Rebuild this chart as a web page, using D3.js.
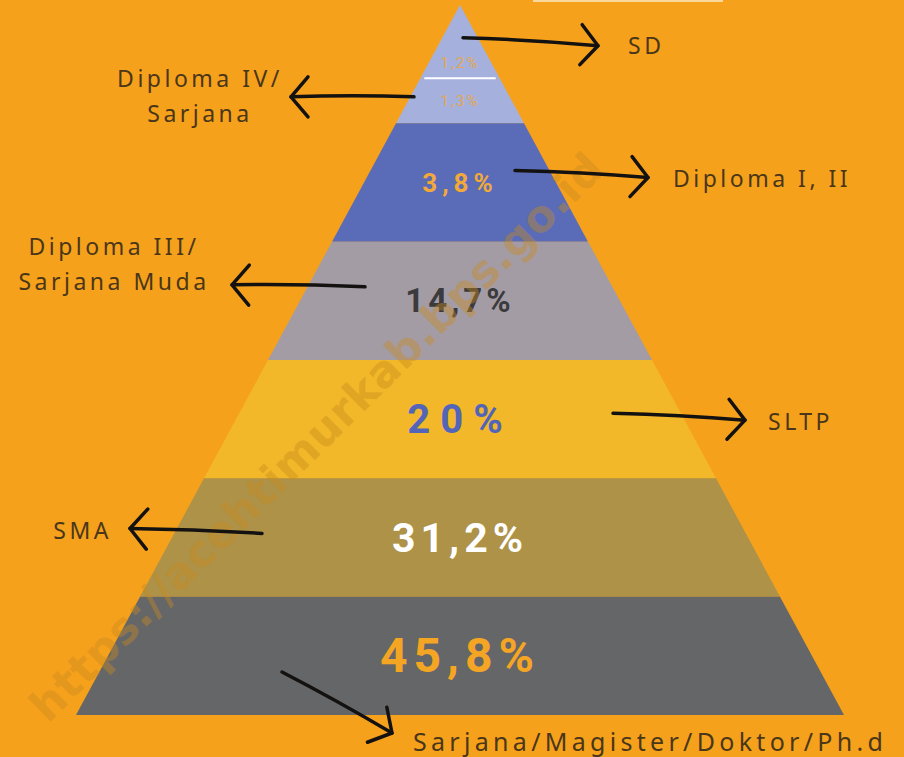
<!DOCTYPE html>
<html>
<head>
<meta charset="utf-8">
<script src="https://cdn.jsdelivr.net/npm/d3@7"></script>
<style>
  html, body { margin: 0; padding: 0; background: #F6A11C; }
  svg { display: block; }
</style>
</head>
<body>
<script>
// education levels, top of the pyramid first
var categories = ["SD", "Diploma IV/ Sarjana", "Diploma I, II", "Diploma III/ Sarjana Muda", "SLTP", "SMA", "Sarjana/Magister/Doktor/Ph.d"];
var values = [1.2, 1.3, 3.8, 14.7, 20, 31.2, 45.8];
var valueLabels = ["1,2%", "1,3%", "3,8%", "14,7%", "20%", "31,2%", "45,8%"];
// tier of the pyramid each category sits in (top tier is shared)
var tierStart = [0, 0.62, 1, 2, 3, 4, 5];
var tierEnd = [0.62, 1, 2, 3, 4, 5, 6];

var fills = ["#A5B1DC", "#A5B1DC", "#5A6CB7", "#A49CA4", "#F2B829", "#AD9248", "#656668"];
var textFills = ["#E3A652", "#E3A652", "#F2A93A", "#3B3B3D", "#5265B8", "#FFFFFF", "#F5A524"];
var textSizes = [15, 15, 26, 33, 40, 41, 48];
var textSpacing = [2, 2, 5, 4, 10, 5, 6];

var width = 904, height = 757;
var svg = d3.select("body").append("svg")
  .attr("width", width)
  .attr("height", height);

svg.append("rect")
  .attr("width", width)
  .attr("height", height)
  .attr("fill", "#F6A11C");

// leftover of a cut-off title strip
svg.append("rect")
  .attr("x", 533).attr("y", 0)
  .attr("width", 190).attr("height", 2)
  .attr("fill", "#FAD79A");

var cx = 460;
var y = d3.scaleLinear().domain([0, 6]).range([5, 715]);
var halfW = d3.scaleLinear().domain([5, 715]).range([0, 384]);

function tierPath(i) {
  var y0 = y(tierStart[i]), y1 = y(tierEnd[i]);
  var w0 = halfW(y0), w1 = halfW(y1);
  return "M" + (cx - w0) + "," + y0 + "L" + (cx + w0) + "," + y0 +
    "L" + (cx + w1) + "," + y1 + "L" + (cx - w1) + "," + y1 + "Z";
}

var pyramid = svg.append("g");
pyramid.selectAll("path")
  .data(values)
  .enter()
  .append("path")
  .attr("d", (d, i) => tierPath(i))
  .attr("fill", (d, i) => fills[i]);

// white divider inside the top tier
var ySplit = y(tierEnd[0]);
pyramid.append("line")
  .attr("x1", cx - halfW(ySplit) + 4).attr("x2", cx + halfW(ySplit) - 4)
  .attr("y1", ySplit).attr("y2", ySplit)
  .attr("stroke", "#FFFFFF")
  .attr("stroke-width", 2);

// percentage labels
pyramid.selectAll("text")
  .data(valueLabels)
  .enter()
  .append("text")
  .attr("x", cx)
  .attr("y", (d, i) => i === 0 ? y(tierEnd[0] - 0.13) : y((tierStart[i] + tierEnd[i]) / 2))
  .attr("text-anchor", "middle")
  .attr("dominant-baseline", "central")
  .attr("font-family", "Roboto, 'DejaVu Sans', sans-serif")
  .attr("font-weight", (d, i) => i < 2 ? 400 : 700)
  .attr("font-size", (d, i) => textSizes[i])
  .attr("letter-spacing", (d, i) => textSpacing[i] + "px")
  .attr("fill", (d, i) => textFills[i])
  .text(d => d);

// watermark
svg.append("text")
  .attr("transform", "translate(48,724) rotate(-44.7)")
  .attr("font-family", "'DejaVu Sans', sans-serif")
  .attr("font-weight", 700)
  .attr("font-size", 44)
  .attr("letter-spacing", "0.5px")
  .attr("fill", "#C98A1E")
  .attr("opacity", 0.4)
  .text("https://acehtimurkab.bps.go.id");

// hand drawn arrows and category names
// side: 1 -> arrow points right, -1 -> left; from/to are distances from the centre line
var notes = [
  { side: 1, from: 3, to: 138, dy: -4, tilt: 8, lx: 168, ly: 45 },
  { side: -1, from: 46, to: 169, dy: -4, tilt: 0 },
  { side: 1, from: 55, to: 188, dy: -12, tilt: 7, lx: 213, ly: 178 },
  { side: -1, from: 95, to: 228, dy: -14, tilt: -2 },
  { side: 1, from: 153, to: 285, dy: -6, tilt: 7, lx: 308, ly: 421 },
  { side: -1, from: 198, to: 330, dy: -4, tilt: -5, lx: -348, ly: 530 }
];

var ink = svg.append("g")
  .attr("fill", "none")
  .attr("stroke", "#141210")
  .attr("stroke-width", 3.5)
  .attr("stroke-linecap", "round")
  .attr("stroke-linejoin", "round");

function arrow(x0, y0, x1, y1) {
  var mx = (x0 + x1) / 2, my = (y0 + y1) / 2 - 2;
  ink.append("path").attr("d", "M" + x0 + "," + y0 + "Q" + mx + "," + my + " " + x1 + "," + y1);
  var len = Math.hypot(x1 - x0, y1 - y0);
  var ux = (x1 - x0) / len, uy = (y1 - y0) / len;
  var px = -uy, py = ux;
  var back = 17, spread = 20;
  ink.append("path").attr("d",
    "M" + (x1 - back * ux + spread * px) + "," + (y1 - back * uy + spread * py) +
    "L" + x1 + "," + y1 +
    "L" + (x1 - back * ux - spread * px) + "," + (y1 - back * uy - spread * py));
}

notes.forEach(function(n, i) {
  var yc = y((tierStart[i] + tierEnd[i]) / 2) + n.dy;
  arrow(cx + n.side * n.from, yc, cx + n.side * n.to, yc + n.tilt);
});
// bottom arrow goes down-right out of the base
arrow(282, 672, 392, 733);

var labelFont = "'Noto Sans', 'DejaVu Sans', sans-serif";
var labels = svg.append("g")
  .attr("font-family", labelFont)
  .attr("font-size", 23)
  .attr("letter-spacing", "3.5px")
  .attr("fill", "#4A3618");

labels.append("text").attr("x", cx + notes[0].lx).attr("y", notes[0].ly)
  .attr("dominant-baseline", "central").text(categories[0]);
labels.append("text").attr("x", cx + notes[2].lx).attr("y", notes[2].ly)
  .attr("dominant-baseline", "central").text(categories[2]);
labels.append("text").attr("x", cx + notes[4].lx).attr("y", notes[4].ly)
  .attr("dominant-baseline", "central").text(categories[4]);
labels.append("text").attr("x", cx + notes[5].lx).attr("y", notes[5].ly)
  .attr("text-anchor", "end")
  .attr("dominant-baseline", "central").text(categories[5]);

// two-line labels on the left
function twoLine(name, xMid, yTop) {
  var parts = name.split(" ");
  var first = parts[0] + " " + parts[1];
  var second = parts.slice(2).join(" ");
  var t = labels.append("text")
    .attr("text-anchor", "middle")
    .attr("x", xMid);
  t.append("tspan").attr("x", xMid).attr("y", yTop).text(first);
  t.append("tspan").attr("x", xMid).attr("y", yTop + 35).text(second);
}
twoLine(categories[1], 200, 87);
twoLine(categories[3], 114, 255);

labels.append("text")
  .attr("x", 413).attr("y", 741)
  .attr("dominant-baseline", "central")
  .attr("font-size", 25)
  .attr("letter-spacing", "4.3px")
  .text(categories[6]);
</script>
</body>
</html>
